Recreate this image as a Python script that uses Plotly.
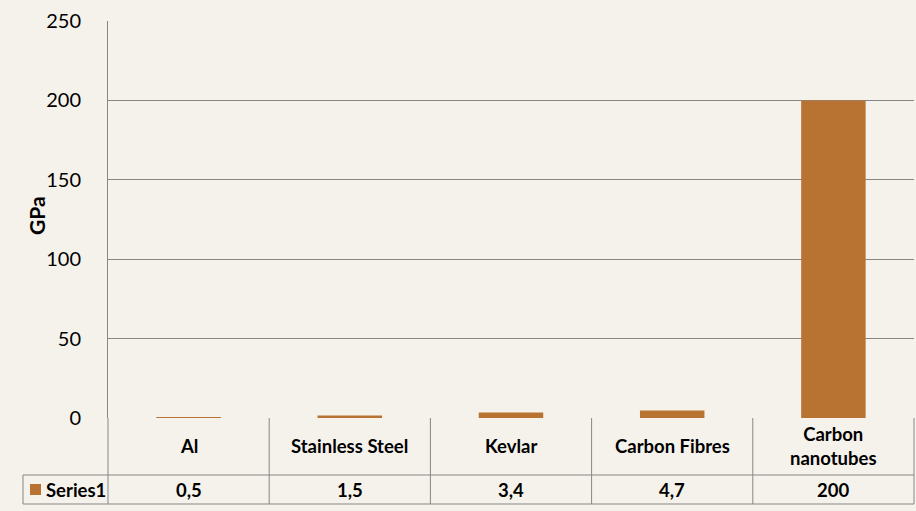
import plotly.graph_objects as go

categories = ["Al", "Stainless Steel", "Kevlar", "Carbon Fibres", "Carbon nanotubes"]
category_labels = ["Al", "Stainless Steel", "Kevlar", "Carbon Fibres", "Carbon<br>nanotubes"]
values = [0.5, 1.5, 3.4, 4.7, 200]
value_labels = ["0,5", "1,5", "3,4", "4,7", "200"]
series_name = "Series1"
y_title = "GPa"
y_ticks = [0, 50, 100, 150, 200, 250]

BG = "#F5F2EB"
BAR = "#B87333"
GRID = "#868686"
FONT = "Lato"

W, H = 916, 511
L, R, T, B = 108, 2, 21, 93
plot_w = W - L - R
plot_h = H - T - B

def py(pix):  # pixel y -> paper y
    return (H - B - pix) / plot_h

def px(pix):  # pixel x -> paper x
    return (pix - L) / plot_w

fig = go.Figure(go.Bar(x=categories, y=values, marker=dict(color=BAR, line=dict(width=0)),
                       name=series_name, showlegend=False))

n = len(categories)
shapes = []
row1 = py(475)
row2 = py(504)
line = dict(color=GRID, width=1)
shapes.append(dict(type="line", xref="paper", yref="paper", x0=px(23), x1=1, y0=row1, y1=row1, line=line))
shapes.append(dict(type="line", xref="paper", yref="paper", x0=px(23), x1=1, y0=row2, y1=row2, line=line))
for k in range(n + 1):
    shapes.append(dict(type="line", xref="paper", yref="paper", x0=k / n, x1=k / n,
                       y0=0, y1=row2, line=line))
shapes.append(dict(type="line", xref="paper", yref="paper", x0=px(23), x1=px(23),
                   y0=row1, y1=row2, line=line))
shapes.append(dict(type="rect", xref="paper", yref="paper", x0=px(30), x1=px(41),
                   y0=py(495), y1=py(484), fillcolor=BAR, line=dict(width=0)))

annotations = []
mid1 = (py(418) + row1) / 2
mid2 = (row1 + row2) / 2
tfont = dict(family=FONT, size=18.5, color="black", weight="bold")
for cat, lab, vl in zip(categories, category_labels, value_labels):
    annotations.append(dict(x=cat, xref="x", y=mid1, yref="paper", text=lab, showarrow=False,
                            font=tfont, xanchor="center", yanchor="middle"))
    annotations.append(dict(x=cat, xref="x", y=mid2, yref="paper", text=vl, showarrow=False,
                            font=tfont, xanchor="center", yanchor="middle"))
annotations.append(dict(x=px(44), xref="paper", y=mid2, yref="paper", text=series_name, showarrow=False,
                        font=tfont, xanchor="left", yanchor="middle"))
annotations.append(dict(x=px(37), xref="paper", y=py(216), yref="paper", text=y_title, showarrow=False,
                        textangle=-90, font=dict(family=FONT, size=21, color="black", weight="bold"),
                        xanchor="center", yanchor="middle"))

fig.update_layout(
    width=W, height=H,
    margin=dict(l=L, r=R, t=T, b=B, pad=0),
    paper_bgcolor=BG, plot_bgcolor=BG,
    bargap=0.6,
    shapes=shapes, annotations=annotations,
    xaxis=dict(type="category", range=[-0.5, n - 0.5], showticklabels=False, showgrid=False,
               zeroline=False, showline=False, ticks=""),
    yaxis=dict(range=[0, 250], tickvals=y_ticks, showgrid=True, gridcolor=GRID, gridwidth=1,
               zeroline=False, showline=True, linecolor=GRID, linewidth=1, ticks="",
               tickfont=dict(family=FONT, size=20, color="black"), ticklabelstandoff=22),
    font=dict(family=FONT),
)

fig.write_html("out.html", config={"displayModeBar": False},
               post_script="document.body.style.margin='0';document.body.style.background='%s';" % BG)
